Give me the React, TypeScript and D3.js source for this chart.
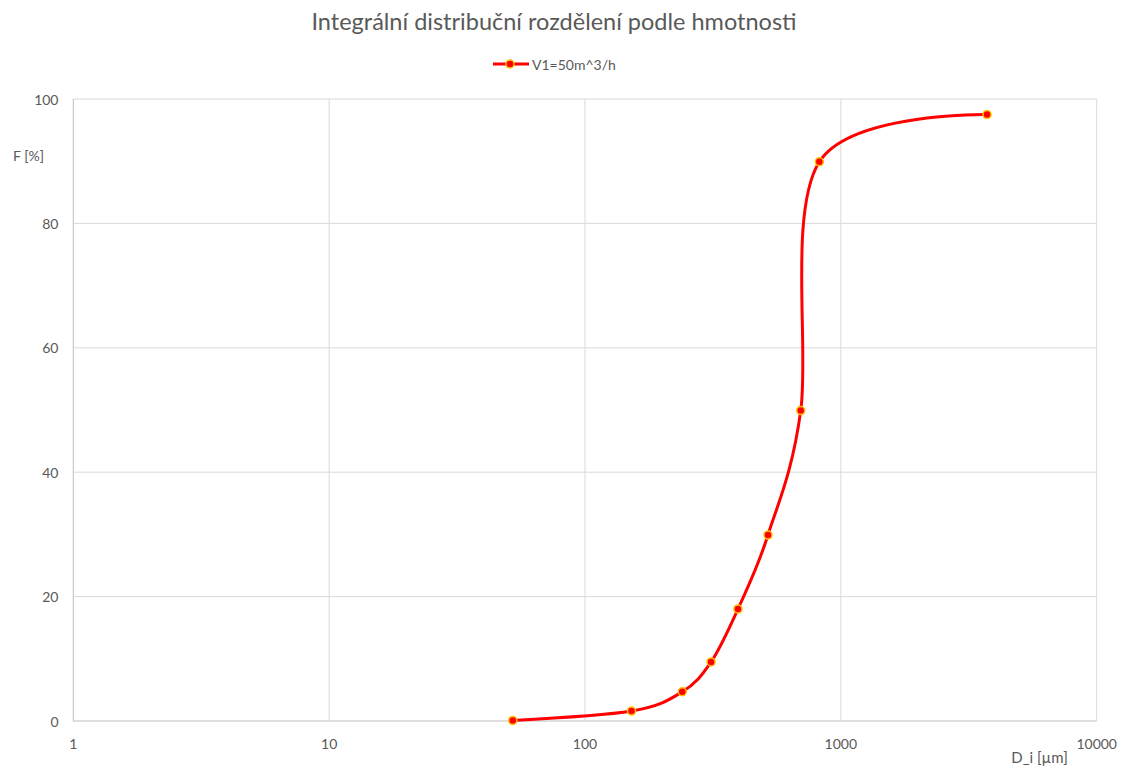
import React from "react";
import * as d3 from "d3";

const diameters = [52.2, 152, 240, 311, 396, 519, 697, 824, 3727];
const fractions = [0.1, 1.6, 4.7, 9.5, 18.0, 29.9, 49.9, 89.9, 97.5];
const xTicks = [1, 10, 100, 1000, 10000];
const yTicks = [0, 20, 40, 60, 80, 100];
const seriesName = "V1=50m^3/h";
const title = "Integrální distribuční rozdělení podle hmotnosti";

const W = 1127;
const H = 769;
const M = { left: 73.3, right: 1096.7, top: 99, bottom: 721 };
const FONT = "Lato, 'Open Sans', sans-serif";
const TXT = "#595959";

export default function App() {
  const x = d3.scaleLog().domain([1, 10000]).range([M.left, M.right]);
  const y = d3.scaleLinear().domain([0, 100]).range([M.bottom, M.top]);
  const pts = diameters.map((d, i) => [x(d), y(fractions[i])] as [number, number]);
  const line = d3.line().curve(d3.curveCardinal.tension(0))(pts) || "";

  return (
    <svg width={W} height={H} style={{ position: "absolute", left: 0, top: 0, background: "#fff" }}>
      <rect x={0} y={0} width={W} height={H} fill="#fff" />
      <text x={554} y={30} textAnchor="middle" fontFamily={FONT} fontSize={23.5} fill={TXT}>
        {title}
      </text>
      {/* legend */}
      <line x1={493} x2={529} y1={64} y2={64} stroke="#ff0000" strokeWidth={3} />
      <circle cx={510} cy={64} r={4} fill="#ff0000" stroke="#ffc000" strokeWidth={1.5} />
      <text x={532} y={69.5} fontFamily={FONT} fontSize={14} fill={TXT}>
        {seriesName}
      </text>
      {/* grid */}
      {yTicks.map((t) => (
        <line key={"gy" + t} x1={M.left} x2={M.right} y1={y(t)} y2={y(t)}
          stroke={t === 0 ? "#bfbfbf" : "#d9d9d9"} strokeWidth={1} />
      ))}
      {xTicks.map((t) => (
        <line key={"gx" + t} x1={x(t)} x2={x(t)} y1={M.top} y2={M.bottom}
          stroke={t === 1 ? "#bfbfbf" : "#d9d9d9"} strokeWidth={1} />
      ))}
      {yTicks.map((t) => (
        <text key={"ty" + t} x={58.5} y={y(t) + 5.5} textAnchor="end" fontFamily={FONT} fontSize={14} fill={TXT}>
          {t}
        </text>
      ))}
      {xTicks.map((t) => (
        <text key={"tx" + t} x={x(t)} y={749} textAnchor="middle" fontFamily={FONT} fontSize={14} fill={TXT}>
          {t}
        </text>
      ))}
      <text x={13} y={161} fontFamily={FONT} fontSize={14} fill={TXT}>F [%]</text>
      <text x={1039.5} y={763} textAnchor="middle" fontFamily={FONT} fontSize={15} fill={TXT}>D_i [µm]</text>
      {/* series */}
      <path d={line} fill="none" stroke="#ff0000" strokeWidth={3} strokeLinecap="round" />
      {pts.map((p, i) => (
        <circle key={"p" + i} cx={p[0]} cy={p[1]} r={4} fill="#ff0000" stroke="#ffc000" strokeWidth={1.5} />
      ))}
    </svg>
  );
}
